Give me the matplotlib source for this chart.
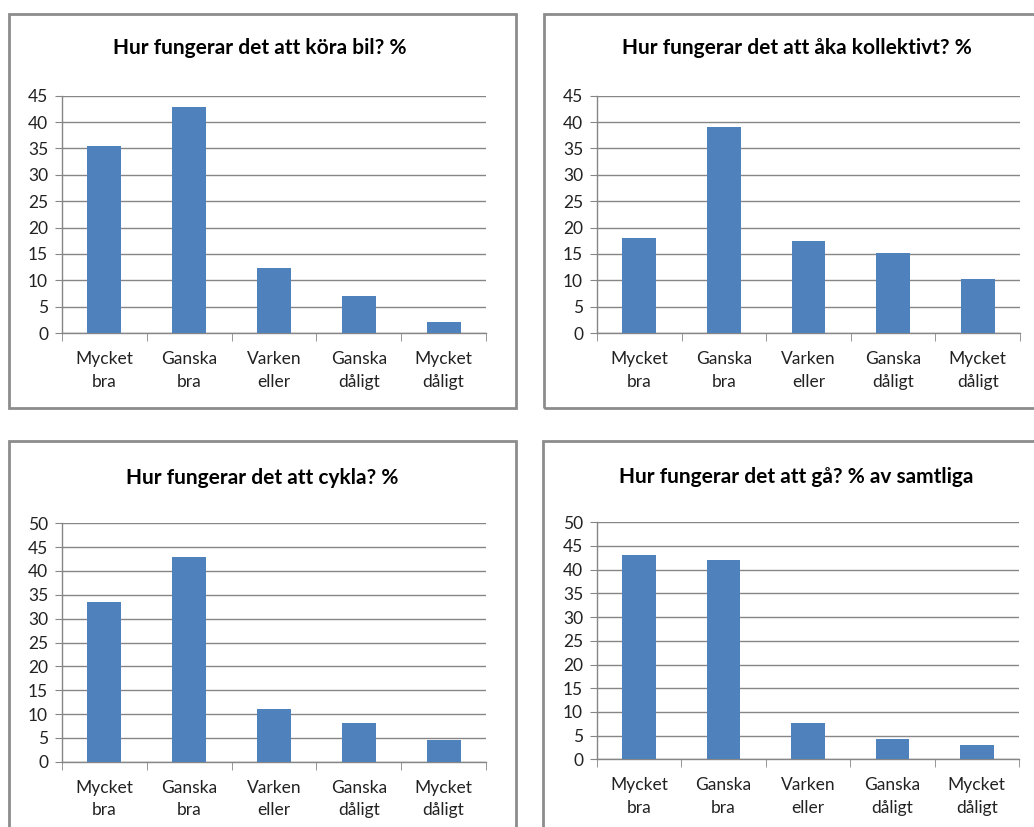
import numpy as np
import matplotlib
matplotlib.use("Agg")
import matplotlib.pyplot as plt
from matplotlib.patches import Rectangle

plt.rcParams['font.family'] = ['Lato', 'DejaVu Sans']

# ---------------- data ----------------
categories = ["Mycket\nbra", "Ganska\nbra", "Varken\neller", "Ganska\ndåligt", "Mycket\ndåligt"]

bil = [35.5, 42.9, 12.3, 7.1, 2.0]
kollektivt = [18.1, 39.0, 17.4, 15.1, 10.3]
cykla = [33.4, 43.0, 11.0, 8.2, 4.5]
ga = [43.1, 42.1, 7.6, 4.2, 2.95]

titles = [
    "Hur fungerar det att köra bil? %",
    "Hur fungerar det att åka kollektivt? %",
    "Hur fungerar det att cykla? %",
    "Hur fungerar det att gå? % av samtliga",
]
ymaxes = [45, 45, 50, 50]

BAR = "#4F81BD"
GRID = "#868686"
W, H = 1034, 827

fig = plt.figure(figsize=(W / 100, H / 100), dpi=100)
fig.patch.set_facecolor("white")


def px_box(x0, y0, x1, y1):
    # pixel box (top-left origin) -> figure fraction [l, b, w, h]
    return [x0 / W, 1 - y1 / H, (x1 - x0) / W, (y1 - y0) / H]


# panel frames
frames = [(9, 14, 516, 408), (544, 14, 1040, 408),
          (9, 441, 516, 835), (543, 441, 1040, 835)]
for x0, y0, x1, y1 in frames:
    l, b, w, h = px_box(x0, y0, x1, y1)
    fig.patches.append(Rectangle((l, b), w, h, transform=fig.transFigure,
                                 facecolor="none", edgecolor="#8c8c8c",
                                 linewidth=2, zorder=0))

# axes areas in pixels (left, top, right, bottom)
axes_px = [(62, 95.7, 486, 333), (597, 95.7, 1020, 333),
           (62, 523.3, 486, 761.7), (597, 522.3, 1019, 759.3)]
title_px = [(260, 48), (797, 48), (262, 478), (796, 477)]

series = [bil, kollektivt, cykla, ga]

for vals, ttl, ymax, (x0, y0, x1, y1), (tx, ty) in zip(series, titles, ymaxes, axes_px, title_px):
    ax = fig.add_axes(px_box(x0, y0, x1, y1))
    ax.patch.set_alpha(0)
    x = np.arange(len(categories))
    ax.bar(x, vals, width=0.4, color=BAR, zorder=3)
    ax.set_xlim(-0.5, len(categories) - 0.5)
    ax.set_ylim(0, ymax)
    ax.set_yticks(np.arange(0, ymax + 1, 5))
    ax.yaxis.grid(True, color=GRID, linewidth=1)
    ax.set_axisbelow(True)
    for s in ["top", "right"]:
        ax.spines[s].set_visible(False)
    for s in ["left", "bottom"]:
        ax.spines[s].set_color(GRID)
        ax.spines[s].set_linewidth(1)
    ax.set_xticks(x)
    ax.set_xticklabels(categories, fontsize=12.5, linespacing=1.5, color="#222222")
    ax.set_xticks(np.arange(-0.5, len(categories), 1), minor=True)
    ax.tick_params(axis="x", which="major", length=0, pad=13)
    ax.tick_params(axis="x", which="minor", length=6, color=GRID, direction="out")
    ax.tick_params(axis="y", length=5, color=GRID, direction="out",
                   labelsize=12.5, labelcolor="#222222", pad=5)
    fig.text(tx / W, 1 - ty / H, ttl, ha="center", va="center",
             fontsize=15, fontweight="bold")

fig.savefig("out.png", dpi=100)
